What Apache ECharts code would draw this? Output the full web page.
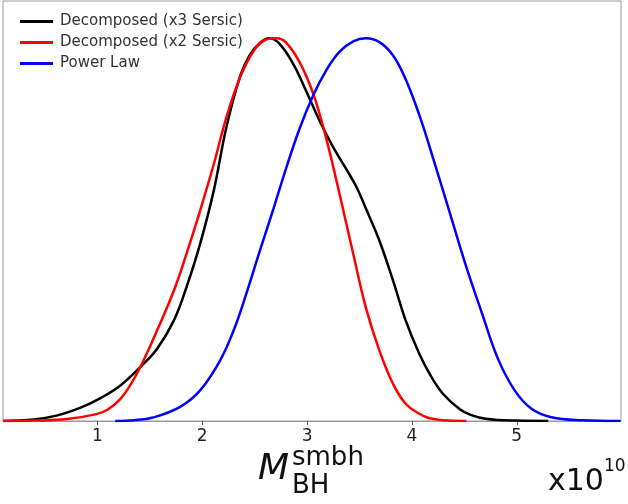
<!DOCTYPE html>
<html>
<head>
<meta charset="utf-8">
<script src="https://cdn.jsdelivr.net/npm/echarts@6/dist/echarts.min.js"></script>
<style>
html,body{margin:0;padding:0;background:#fff;}
#chart{width:628px;height:504px;}
</style>
</head>
<body>
<div id="chart"></div>
<script>
// Data (x in units of 1e10, y normalised density)
const seriesNames = ['Decomposed (x3 Sersic)', 'Decomposed (x2 Sersic)', 'Power Law'];
const tickValues = [1, 2, 3, 4, 5];

const blackX = [0.10, 0.39, 0.61, 0.84, 1.03, 1.22, 1.41, 1.57, 1.73, 1.85, 1.98, 2.11, 2.23, 2.36, 2.45, 2.55, 2.64, 2.74, 2.87, 2.99, 3.12, 3.25, 3.37, 3.47, 3.56, 3.69, 3.82, 3.94, 4.07, 4.18, 4.30, 4.46, 4.56, 4.70, 4.99, 5.30];
const blackY = [0.0, 0.004, 0.014, 0.035, 0.060, 0.093, 0.141, 0.189, 0.263, 0.350, 0.463, 0.602, 0.767, 0.900, 0.955, 0.988, 1.0, 0.985, 0.932, 0.863, 0.784, 0.715, 0.660, 0.612, 0.556, 0.471, 0.367, 0.263, 0.176, 0.118, 0.070, 0.030, 0.016, 0.006, 0.001, 0.0];

const redX = [0.10, 0.40, 0.71, 0.99, 1.10, 1.22, 1.31, 1.41, 1.57, 1.73, 1.85, 1.98, 2.11, 2.23, 2.36, 2.49, 2.61, 2.71, 2.80, 2.93, 3.06, 3.18, 3.31, 3.44, 3.56, 3.69, 3.82, 3.94, 4.07, 4.17, 4.30, 4.52];
const redY = [0.0, 0.001, 0.005, 0.018, 0.030, 0.058, 0.092, 0.141, 0.237, 0.341, 0.437, 0.550, 0.671, 0.793, 0.897, 0.967, 0.997, 1.0, 0.989, 0.937, 0.854, 0.741, 0.593, 0.437, 0.297, 0.184, 0.097, 0.045, 0.019, 0.007, 0.002, 0.0];

const blueX = [1.17, 1.35, 1.53, 1.79, 1.98, 2.17, 2.30, 2.42, 2.55, 2.68, 2.80, 2.93, 3.06, 3.18, 3.31, 3.44, 3.56, 3.69, 3.82, 3.94, 4.07, 4.17, 4.36, 4.51, 4.67, 4.82, 4.98, 5.14, 5.33, 5.62, 5.99];
const blueY = [0.0, 0.002, 0.009, 0.037, 0.080, 0.158, 0.237, 0.332, 0.445, 0.555, 0.660, 0.765, 0.852, 0.915, 0.965, 0.992, 1.0, 0.990, 0.955, 0.893, 0.800, 0.715, 0.545, 0.410, 0.280, 0.163, 0.080, 0.032, 0.010, 0.002, 0.0];

const pair = (xs, ys) => xs.map((x, i) => [x, ys[i]]);
const FONT = 'DejaVu Sans';

const chart = echarts.init(document.getElementById('chart'), null, {renderer: 'canvas'});
const mkSeries = (name, xs, ys, color) => ({
  name, type: 'line', data: pair(xs, ys), showSymbol: false, smooth: 0.4,
  lineStyle: {color, width: 2.5}, itemStyle: {color}, animation: false
});

chart.setOption({
  animation: false,
  grid: {left: 3, top: 1, right: 7, bottom: 83, show: true, borderColor: '#9a9a9a', borderWidth: 1, backgroundColor: '#fff'},
  legend: {
    orient: 'vertical', left: 15, top: 9, itemWidth: 33, itemHeight: 3, itemGap: 6, icon: 'rect',
    data: seriesNames,
    textStyle: {fontFamily: FONT, fontSize: 15, color: '#333', padding: [0, 0, 0, 2]}
  },
  xAxis: {
    type: 'value', min: 0.1, max: 5.994,
    splitLine: {show: false},
    axisLine: {show: true, lineStyle: {color: '#9a9a9a', width: 1}},
    axisTick: {show: true, inside: false, length: 4, customValues: tickValues, lineStyle: {color: '#555'}},
    axisLabel: {customValues: tickValues, fontFamily: FONT, fontSize: 17, color: '#222', margin: 7}
  },
  yAxis: {
    type: 'value', min: 0, max: 1.0975,
    splitLine: {show: false}, axisLine: {show: false}, axisTick: {show: false}, axisLabel: {show: false}
  },
  series: [
    mkSeries(seriesNames[0], blackX, blackY, '#000000'),
    mkSeries(seriesNames[1], redX, redY, '#ff0000'),
    mkSeries(seriesNames[2], blueX, blueY, '#0000ff')
  ],
  graphic: [
    {type: 'text', left: 258, top: 452, style: {text: 'M', font: 'oblique 36px "DejaVu Sans"', fill: '#111'}},
    {type: 'text', left: 292, top: 445, style: {text: 'smbh', font: '26px "DejaVu Sans"', fill: '#111'}},
    {type: 'text', left: 292, top: 473, style: {text: 'BH', font: '26px "DejaVu Sans"', fill: '#111'}},
    {type: 'text', left: 548, top: 467, style: {text: 'x10', font: '30px "DejaVu Sans"', fill: '#111'}},
    {type: 'text', left: 604, top: 458, style: {text: '10', font: '17px "DejaVu Sans"', fill: '#111'}}
  ]
});
</script>
</body>
</html>
